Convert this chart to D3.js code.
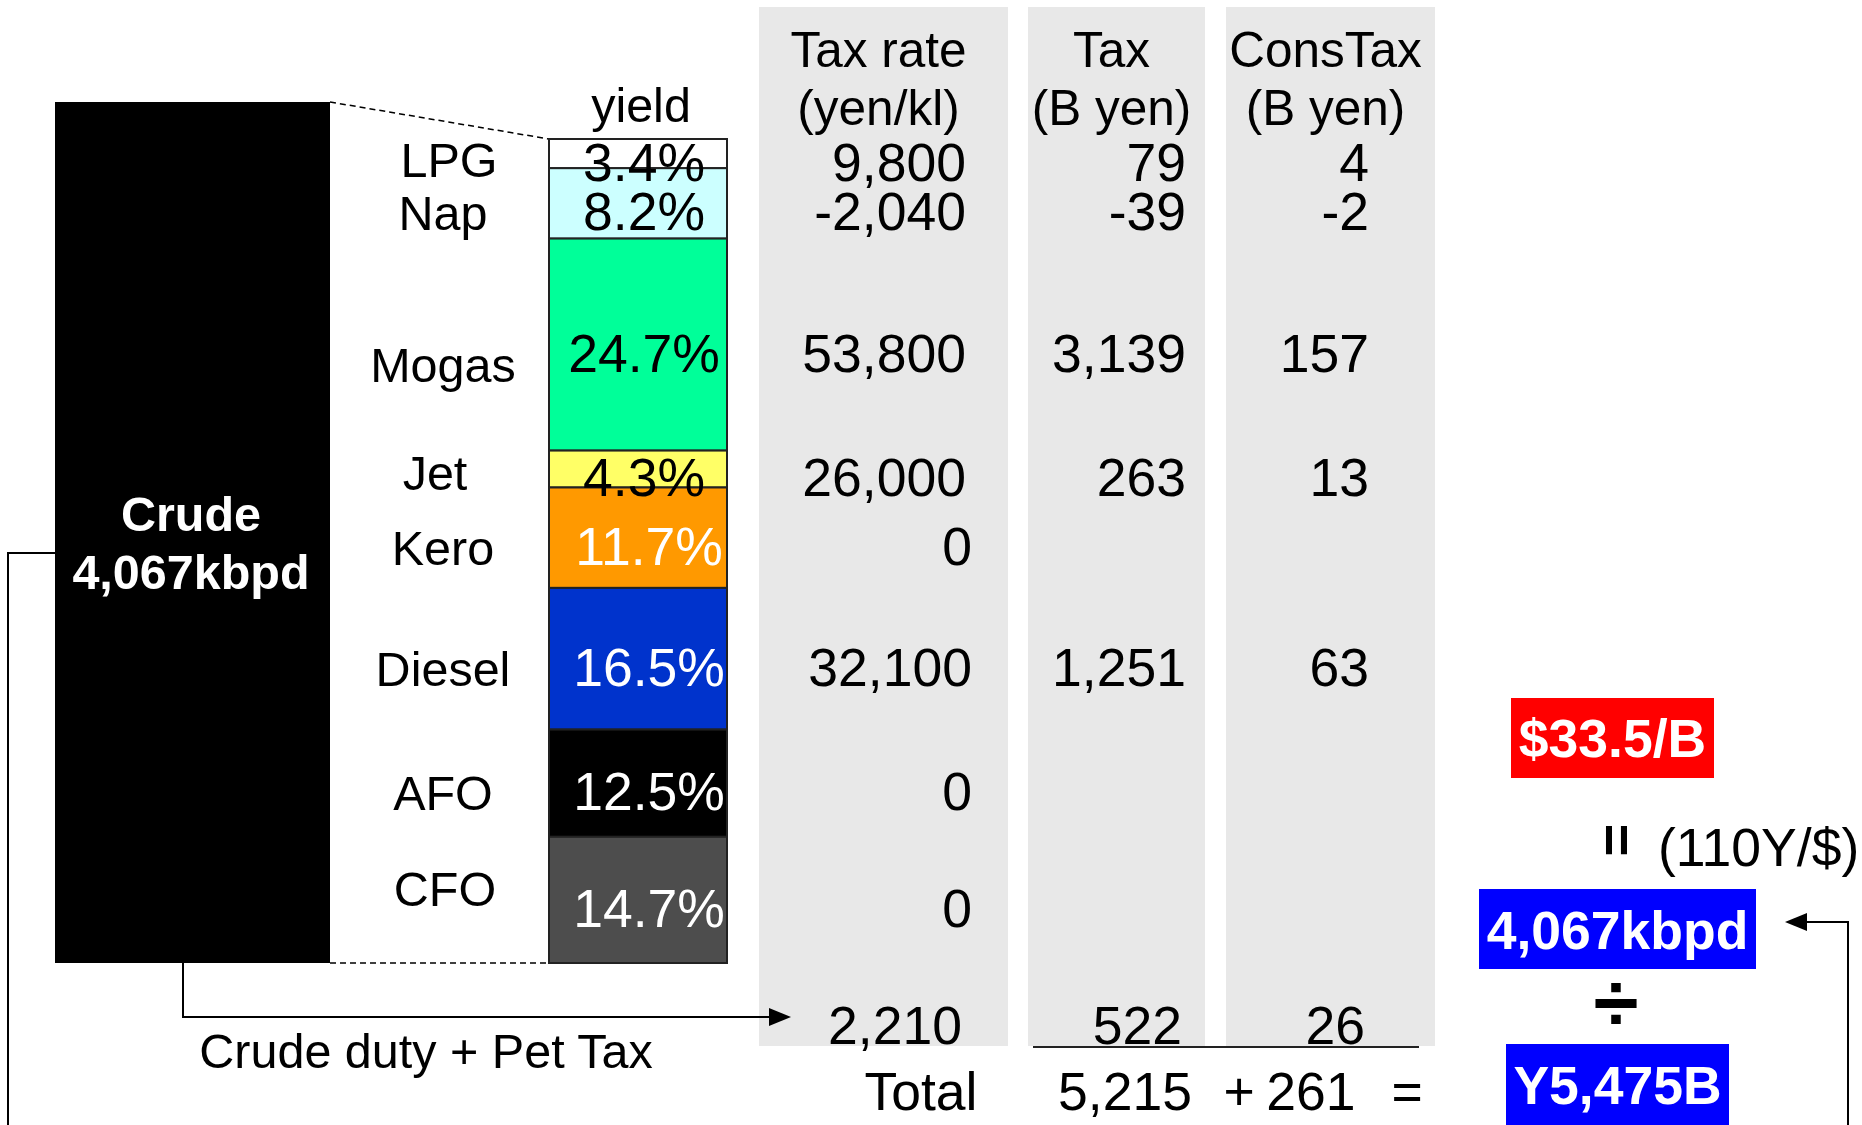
<!DOCTYPE html>
<html>
<head>
<meta charset="utf-8">
<script src="https://cdn.jsdelivr.net/npm/d3@7"></script>
<style>
  body { margin: 0; background: #fff; }
  svg { display: block; font-family: "Liberation Sans", Arial, sans-serif; }
</style>
</head>
<body>
<div id="chart"></div>
<script>
// data
const products = ["LPG", "Nap", "Mogas", "Jet", "Kero", "Diesel", "AFO", "CFO"]
const yields = [3.4, 8.2, 24.7, 4.3, 11.7, 16.5, 12.5, 14.7]
const taxRates = [9800, -2040, 53800, 26000, 0, 32100, 0, 0]
const taxes = [79, -39, 3139, 263, null, 1251, null, null]
const consTaxes = [4, -2, 157, 13, null, 63, null, null]
const crudeDutyRow = [2210, 522, 26]
const totals = [5215, 261, 5475]
const crudeKbpd = 4067
const pricePerBbl = 33.5
const yenPerDollar = 110
const headers = [["Tax rate", "(yen/kl)"], ["Tax", "(B yen)"], ["ConsTax", "(B yen)"]]

// styles
const segColors = ["#ffffff", "#ccffff", "#00ff99", "#ffff66", "#ff9900", "#0033cc", "#000000", "#4d4d4d"]
const pctColors = ["#000", "#000", "#000", "#000", "#fff", "#fff", "#fff", "#fff"]
const labelNudge = {LPG: [6, -4], Mogas: [0, 10], Jet: [-8, -6], CFO: [2, -21]}

const width = 1862, height = 1125
const fmt = d3.formatLocale({decimal: ".", thousands: ",", grouping: [3], currency: ["$", ""], minus: "-"}).format(",")
const fsLabel = 48.5, fsNum = 53.5

const svg = d3.select("#chart").append("svg")
  .attr("width", width)
  .attr("height", height)

// columns background
const colX = d3.scaleOrdinal().domain([0, 1, 2]).range([[759, 1008], [1028, 1205], [1226, 1435]])
const colRight = [966, 1186, 1369]
svg.append("g").selectAll("rect")
  .data(headers)
  .enter().append("rect")
    .attr("x", (d, i) => colX(i)[0])
    .attr("y", 7)
    .attr("width", (d, i) => colX(i)[1] - colX(i)[0])
    .attr("height", 1046 - 7)
    .attr("fill", "#e8e8e8")

// stacked yield bar
const y = d3.scaleLinear()
  .domain([0, d3.sum(yields)])
  .range([139, 963])
const cum = [0, ...d3.cumsum(yields)]
const segs = products.map((p, i) => ({name: p, v: yields[i], y0: cum[i], y1: cum[i + 1], i}))
const stackX = [549, 727]
const mid = d => (y(d.y0) + y(d.y1)) / 2

// crude bar
const yc = d3.scaleLinear().domain([0, 100]).range([963, 102])
svg.append("rect")
  .attr("x", 55).attr("y", yc(100))
  .attr("width", 330 - 55).attr("height", yc(0) - yc(100))
  .attr("fill", "#000")

// dashed zoom lines
svg.append("line")
  .attr("x1", 330).attr("y1", yc(100)).attr("x2", stackX[0]).attr("y2", y(0))
  .attr("stroke", "#000").attr("stroke-width", 1.5).attr("stroke-dasharray", "6,4")
svg.append("line")
  .attr("x1", 330).attr("y1", y(d3.sum(yields))).attr("x2", stackX[0]).attr("y2", y(d3.sum(yields)))
  .attr("stroke", "#000").attr("stroke-width", 1.5).attr("stroke-dasharray", "6,4")

svg.append("g").selectAll("rect")
  .data(segs)
  .enter().append("rect")
    .attr("x", stackX[0])
    .attr("y", d => y(d.y0))
    .attr("width", stackX[1] - stackX[0])
    .attr("height", d => y(d.y1) - y(d.y0))
    .attr("fill", d => segColors[d.i])
    .attr("stroke", "#222")
    .attr("stroke-width", 2)

svg.append("g").selectAll("text")
  .data(segs)
  .enter().append("text")
    .attr("x", d => pctColors[d.i] === "#fff" ? 649 : 644)
    .attr("y", d => mid(d) + 27)
    .attr("text-anchor", "middle")
    .attr("font-size", fsNum)
    .attr("fill", d => pctColors[d.i])
    .text(d => d.v.toFixed(1) + "%")

svg.append("g").selectAll("text")
  .data(segs)
  .enter().append("text")
    .attr("x", d => 443 + (labelNudge[d.name] || [0, 0])[0])
    .attr("y", d => mid(d) + 27 + (labelNudge[d.name] || [0, 0])[1])
    .attr("text-anchor", "middle")
    .attr("font-size", fsLabel)
    .text(d => d.name)

svg.append("text")
  .attr("x", 641).attr("y", 122)
  .attr("text-anchor", "middle").attr("font-size", fsLabel)
  .text("yield")

// crude label
svg.append("text")
  .attr("x", 191).attr("y", 531)
  .attr("text-anchor", "middle").attr("font-size", fsLabel).attr("font-weight", "bold")
  .attr("fill", "#fff")
  .text("Crude")
svg.append("text")
  .attr("x", 191).attr("y", 589)
  .attr("text-anchor", "middle").attr("font-size", fsLabel).attr("font-weight", "bold")
  .attr("fill", "#fff")
  .text(fmt(crudeKbpd) + "kbpd")

// table headers
headers.forEach((h, i) => {
  const cx = (colX(i)[0] + colX(i)[1]) / 2 - 5
  svg.append("text").attr("x", cx).attr("y", 67)
    .attr("text-anchor", "middle").attr("font-size", 49.5).text(h[0])
  svg.append("text").attr("x", cx).attr("y", 125)
    .attr("text-anchor", "middle").attr("font-size", 49.5).text(h[1])
})

// table values
const cols = [taxRates, taxes, consTaxes]
cols.forEach((vals, c) => {
  svg.append("g").selectAll("text")
    .data(segs.filter(d => vals[d.i] != null))
    .enter().append("text")
      .attr("x", d => colRight[c] + (c === 0 && (vals[d.i] === 0 || d.name === "Diesel") ? 6 : 0))
      .attr("y", d => mid(d) + 27)
      .attr("text-anchor", "end")
      .attr("font-size", fsNum)
      .text(d => fmt(vals[d.i]))
})

// crude duty row
svg.append("g").selectAll("text")
  .data(crudeDutyRow)
  .enter().append("text")
    .attr("x", (d, i) => colRight[i] - 4)
    .attr("y", 1044)
    .attr("text-anchor", "end")
    .attr("font-size", fsNum)
    .text(d => fmt(d))

svg.append("line")
  .attr("x1", 1033).attr("x2", 1419).attr("y1", 1047).attr("y2", 1047)
  .attr("stroke", "#222").attr("stroke-width", 2)

// total row
const totalRow = [
  {t: "Total", x: 921},
  {t: fmt(totals[0]), x: 1125},
  {t: "+", x: 1239},
  {t: fmt(totals[1]), x: 1311},
  {t: "=", x: 1407}
]
svg.append("g").selectAll("text")
  .data(totalRow)
  .enter().append("text")
    .attr("x", d => d.x).attr("y", 1110)
    .attr("text-anchor", "middle").attr("font-size", fsNum)
    .text(d => d.t)

svg.append("text")
  .attr("x", 426).attr("y", 1068)
  .attr("text-anchor", "middle").attr("font-size", fsLabel)
  .text("Crude duty + Pet Tax")

// connectors
const arrow = (g, tip, dir) => {
  const [x, yy] = tip
  g.append("path")
    .attr("d", `M${x},${yy} L${x - dir * 22},${yy - 9} L${x - dir * 22},${yy + 9} Z`)
    .attr("fill", "#000")
}
const line = d3.line()
svg.append("path")
  .attr("d", line([[183, 963], [183, 1017], [775, 1017]]))
  .attr("fill", "none").attr("stroke", "#000").attr("stroke-width", 2)
arrow(svg, [791, 1017], 1)

svg.append("path")
  .attr("d", line([[55, 553], [8, 553], [8, 1130]]))
  .attr("fill", "none").attr("stroke", "#000").attr("stroke-width", 2)
svg.append("path")
  .attr("d", line([[1848, 1130], [1848, 922], [1800, 922]]))
  .attr("fill", "none").attr("stroke", "#000").attr("stroke-width", 2)
arrow(svg, [1785, 922], -1)

// right side boxes
const boxes = [
  {t: "$" + pricePerBbl.toFixed(1) + "/B", fill: "#ff0000", x0: 1511, x1: 1714, y0: 698, y1: 778, base: 757},
  {t: fmt(crudeKbpd) + "kbpd", fill: "#0000ff", x0: 1479, x1: 1756, y0: 889, y1: 969, base: 949},
  {t: "Y" + fmt(totals[2]) + "B", fill: "#0000ff", x0: 1506, x1: 1729, y0: 1044, y1: 1130, base: 1104}
]
const bx = svg.append("g").selectAll("g")
  .data(boxes)
  .enter().append("g")
bx.append("rect")
  .attr("x", d => d.x0).attr("y", d => d.y0)
  .attr("width", d => d.x1 - d.x0).attr("height", d => d.y1 - d.y0)
  .attr("fill", d => d.fill)
bx.append("text")
  .attr("x", d => (d.x0 + d.x1) / 2).attr("y", d => d.base)
  .attr("text-anchor", "middle").attr("font-size", fsNum).attr("font-weight", "bold")
  .attr("fill", "#fff")
  .text(d => d.t)

// vertical equals
svg.append("text")
  .attr("transform", "translate(1618,840) rotate(90)")
  .attr("text-anchor", "middle").attr("dy", "0.35em")
  .attr("font-size", 56).attr("font-weight", "bold")
  .text("=")
svg.append("text")
  .attr("x", 1658).attr("y", 866)
  .attr("font-size", fsNum)
  .text("(" + yenPerDollar + "Y/$)")

svg.append("text")
  .attr("x", 1616).attr("y", 1002)
  .attr("text-anchor", "middle").attr("dy", "0.35em")
  .attr("font-size", 82).attr("font-weight", "bold")
  .text("÷")
</script>
</body>
</html>
